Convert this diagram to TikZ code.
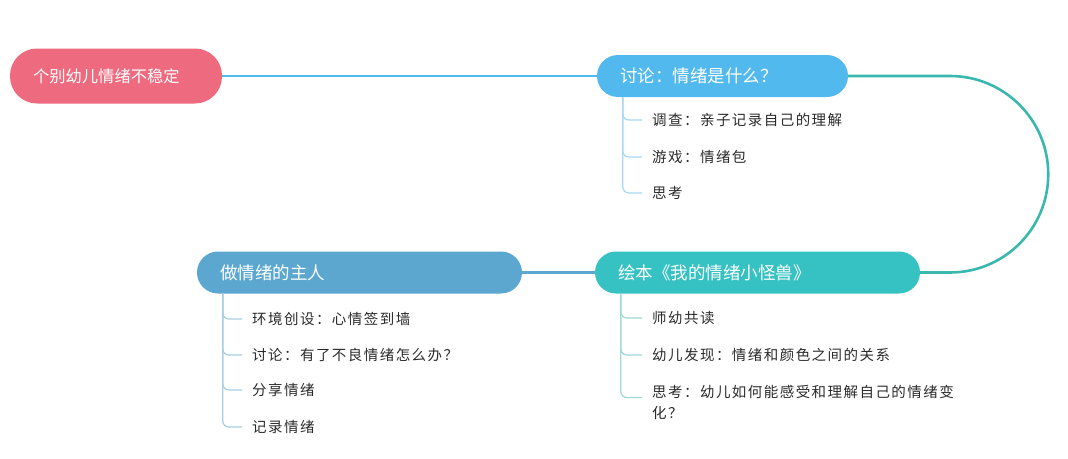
\documentclass[tikz,border=0pt]{standalone}
\usepackage{fontspec}
\newfontfamily\cjk{Noto Sans CJK SC}
\newfontfamily\cjkchild[LetterSpace=10]{Noto Sans CJK SC}
\definecolor{rootc}{HTML}{EE6A7E}
\definecolor{bluec}{HTML}{52B9EE}
\definecolor{tealc}{HTML}{36C2C2}
\definecolor{steelc}{HTML}{5BA7CF}
\definecolor{curvec}{HTML}{3AB8AE}
\definecolor{bluel}{HTML}{A8D8F0}
\definecolor{teall}{HTML}{9ED9D6}
\definecolor{steell}{HTML}{A9CDE3}
\definecolor{txt}{HTML}{2A2A2A}
\tikzset{
  topic/.style={rectangle, rounded corners=21pt, minimum height=42pt, inner ysep=0pt, inner xsep=23pt, text=white, font=\cjk\fontsize{17.5}{19}\selectfont, align=left},
  rootbox/.style={rectangle, rounded corners=27pt, fill=rootc, text width=166pt, inner xsep=23pt, inner ysep=0pt, minimum height=55pt, text=white, font=\cjk\fontsize{16.3}{18}\selectfont, align=left},
  child/.style={anchor=west, inner sep=0pt, text=txt, font=\cjkchild\fontsize{14.5}{21}\selectfont, align=left},
  link/.style={line width=2.6pt},
  branch/.style={line width=1.2pt, rounded corners=6pt},
}
\begin{document}
\begin{tikzpicture}[x=1pt,y=-1pt]
\useasboundingbox (0,0) rectangle (1068,458);
% topics
\node[rootbox] (root) at (116,76) {个别幼儿情绪不稳定};
\node[topic, fill=bluec, text width=205pt] (t1) at (722.5,76) {讨论：情绪是什么？};
\node[topic, fill=tealc, text width=279pt] (t2) at (757.5,272.5) {绘本《我的情绪小怪兽》};
\node[topic, fill=steelc, text width=279pt] (t3) at (359.5,272.5) {做情绪的主人};
% main links
\coordinate (k1) at (950,76);
\draw[link, bluec] (root.east) -- (t1.west);
\draw[link, curvec] (t1.east) -- (k1) arc[start angle=-90, end angle=90, radius=98.25] -- (t2.east);
\draw[link, steelc] (t2.west) -- (t3.east);
% children of t1
\node[child] (c11) at (652,120) {调查：亲子记录自己的理解};
\node[child] (c12) at (652,157) {游戏：情绪包};
\node[child] (c13) at (652,193) {思考};
\foreach \c in {c11,c12,c13}
  \draw[branch, bluel] ([xshift=26pt]t1.south west) |- ([xshift=-10pt]\c.west);
% children of t2
\node[child] (c21) at (652,318) {师幼共读};
\node[child] (c22) at (652,355) {幼儿发现：情绪和颜色之间的关系};
\node[child] (c23) at (652,402.5) {思考：幼儿如何能感受和理解自己的情绪变\\化？};
\foreach \c in {c21,c22}
  \draw[branch, teall] ([xshift=26pt]t2.south west) |- ([xshift=-10pt]\c.west);
\draw[branch, teall] ([xshift=26pt]t2.south west) |- ([xshift=-10pt,yshift=5pt]c23.west);
% children of t3
\node[child] (c31) at (252,319) {环境创设：心情签到墙};
\node[child] (c32) at (252,355) {讨论：有了不良情绪怎么办？};
\node[child] (c33) at (252,390) {分享情绪};
\node[child] (c34) at (252,427) {记录情绪};
\foreach \c in {c31,c32,c33,c34}
  \draw[branch, steell] ([xshift=26pt]t3.south west) |- ([xshift=-10pt]\c.west);
\end{tikzpicture}
\end{document}
